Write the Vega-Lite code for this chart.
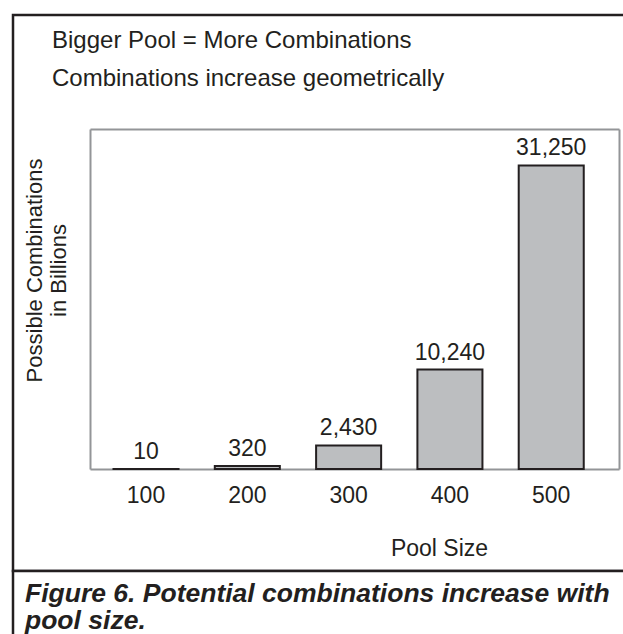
{
  "$schema": "https://vega.github.io/schema/vega-lite/v6.json",
  "padding": {"left": 11, "top": 13, "right": 0, "bottom": 0},
  "background": "white",
  "spacing": 0,
  "bounds": "flush",
  "config": {
    "font": "Liberation Sans",
    "view": {"stroke": "#231f20", "strokeWidth": 2.5},
    "concat": {"spacing": 0}
  },
  "vconcat": [
    {
      "width": 620,
      "height": 556,
      "title": {
        "text": ["Bigger Pool = More Combinations", "Combinations increase geometrically"],
        "anchor": "start",
        "frame": "group",
        "orient": "top",
        "offset": -76,
        "dx": 39,
        "baseline": "top",
        "fontSize": 24,
        "fontWeight": "normal",
        "color": "#231f20",
        "lineHeight": 38
      },
      "data": {
        "values": [
          {"pool": 100, "combos": 10},
          {"pool": 200, "combos": 320},
          {"pool": 300, "combos": 2430},
          {"pool": 400, "combos": 10240},
          {"pool": 500, "combos": 31250}
        ]
      },
      "layer": [
        {
          "mark": {"type": "bar", "fill": "#bcbec0", "stroke": "#231f20", "strokeWidth": 2},
          "encoding": {
            "x": {
              "field": "pool",
              "type": "ordinal",
              "sort": null,
              "scale": {"range": [77, 606], "paddingInner": 0.358, "paddingOuter": 0.29, "align": 0.4},
              "axis": {
                "orient": "bottom",
                "offset": -102,
                "domainColor": "#939598",
                "domainWidth": 2,
                "ticks": false,
                "grid": false,
                "labelFontSize": 23,
                "labelColor": "#231f20",
                "labelPadding": 15,
                "labelAngle": 0,
                "title": "Pool Size",
                "titleFontSize": 23,
                "titleFontWeight": "normal",
                "titleColor": "#231f20",
                "titleX": 426,
                "titleY": 68,
                "titleBaseline": "top",
                "titleAlign": "center"
              }
            },
            "y": {
              "field": "combos",
              "type": "quantitative",
              "scale": {"domain": [0, 35000], "range": [454, 114], "nice": false, "zero": true},
              "axis": {
                "orient": "left",
                "offset": -77,
                "domainColor": "#939598",
                "domainWidth": 2,
                "ticks": false,
                "labels": false,
                "grid": false,
                "title": ["Possible Combinations", "in Billions"],
                "titleFontSize": 22,
                "titleFontWeight": "normal",
                "titleColor": "#231f20",
                "titleAngle": 270,
                "titleX": -66,
                "titleY": 255,
                "titleBaseline": "top",
                "titleAlign": "center",
                "titleLineHeight": 24
              }
            }
          }
        },
        {
          "mark": {"type": "text", "baseline": "alphabetic", "dy": -10, "fontSize": 23, "color": "#231f20"},
          "encoding": {
            "x": {
              "field": "pool",
              "type": "ordinal",
              "sort": null,
              "axis": {"orient": "top", "offset": -114, "domainColor": "#939598", "domainWidth": 2, "ticks": false, "labels": false, "grid": false, "title": null}
            },
            "y": {
              "field": "combos",
              "type": "quantitative",
              "axis": {"orient": "right", "offset": -14, "domainColor": "#939598", "domainWidth": 2, "ticks": false, "labels": false, "grid": false, "title": null}
            },
            "text": {"field": "combos", "type": "quantitative", "format": ","}
          }
        }
      ],
      "resolve": {"axis": {"x": "independent", "y": "independent"}}
    },
    {
      "width": 620,
      "height": 80,
      "view": {"stroke": "#231f20", "strokeWidth": 2.5, "fill": "white"},
      "title": {
        "text": ["Figure 6. Potential combinations increase with", "pool size."],
        "anchor": "start",
        "frame": "group",
        "orient": "top",
        "offset": -63,
        "dx": 12,
        "baseline": "top",
        "fontSize": 26.5,
        "fontWeight": "bold",
        "fontStyle": "italic",
        "color": "#231f20",
        "lineHeight": 27
      },
      "data": {"values": [{"k": 1}]},
      "mark": {"type": "point", "opacity": 0},
      "encoding": {}
    }
  ]
}
